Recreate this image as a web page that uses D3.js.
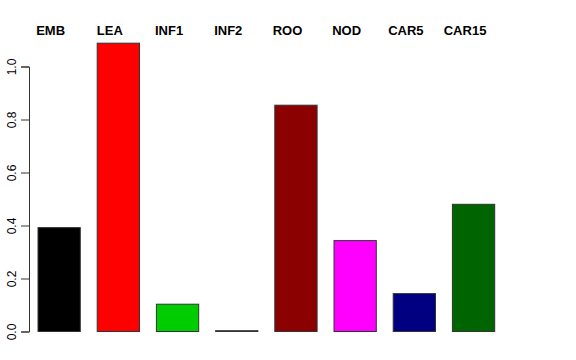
<!DOCTYPE html>
<html>
<head>
<meta charset="utf-8">
<script src="https://cdn.jsdelivr.net/npm/d3@7"></script>
<style>
  body { margin: 0; background: #fff; }
  svg { display: block; font-family: "Liberation Sans", Arial, sans-serif; }
</style>
</head>
<body>
<div class="draw-barchart"></div>
<script>
const categories = ["EMB", "LEA", "INF1", "INF2", "ROO", "NOD", "CAR5", "CAR15"];
const values = [0.392, 1.088, 0.103, 0.003, 0.854, 0.343, 0.143, 0.48];
const colors = ["#000000", "#FF0000", "#00CD00", "#0000FF", "#8B0000", "#FF00FF", "#000080", "#006400"];
const yTicks = [0, 0.2, 0.4, 0.6, 0.8, 1.0];

const width = 576, height = 360;

let svg = d3
  .select(".draw-barchart")
  .append("svg")
  .attr("width", width)
  .attr("height", height);

// bars: width 1, space 0.4 (R barplot style)
let x = d3
  .scaleBand()
  .domain(categories)
  .range([38, 494.7])
  .paddingInner(0.4 / 1.4)
  .paddingOuter(0);

let y = d3.scaleLinear().domain([0, 1]).range([331.5, 66.5]);

svg
  .selectAll("rect.bar")
  .data(categories)
  .enter()
  .append("rect")
  .attr("class", "bar")
  .attr("x", (d) => x(d))
  .attr("y", (d, i) => y(values[i]))
  .attr("width", x.bandwidth())
  .attr("height", (d, i) => y(0) - y(values[i]))
  .attr("fill", (d, i) => colors[i])
  .attr("stroke", "#333")
  .attr("stroke-width", 1);

// y axis, R style: line only from first to last tick, rotated labels
let yAxis = svg
  .append("g")
  .attr("transform", "translate(29,0)")
  .call(
    d3.axisLeft(y)
      .tickValues(yTicks)
      .tickFormat(d3.format(".1f"))
      .tickSizeOuter(0)
      .tickSize(8)
  );
yAxis.select(".domain").attr("stroke", "#333");
yAxis.selectAll(".tick line").attr("stroke", "#333");
yAxis
  .selectAll(".tick text")
  .attr("font-size", 12)
  .attr("font-family", "Liberation Sans, Arial, sans-serif")
  .attr("fill", "#000")
  .attr("x", 0)
  .attr("dy", 0)
  .attr("text-anchor", "middle")
  .attr("transform", "translate(-13,0) rotate(-90)");

// category labels across the top
svg
  .selectAll("text.cat")
  .data(categories)
  .enter()
  .append("text")
  .attr("class", "cat")
  .attr("x", (d) => x(d) + x.bandwidth() / 2 - 8.5)
  .attr("y", 35)
  .attr("text-anchor", "middle")
  .attr("font-weight", "bold")
  .attr("font-size", 13)
  .text((d) => d);
</script>
</body>
</html>
